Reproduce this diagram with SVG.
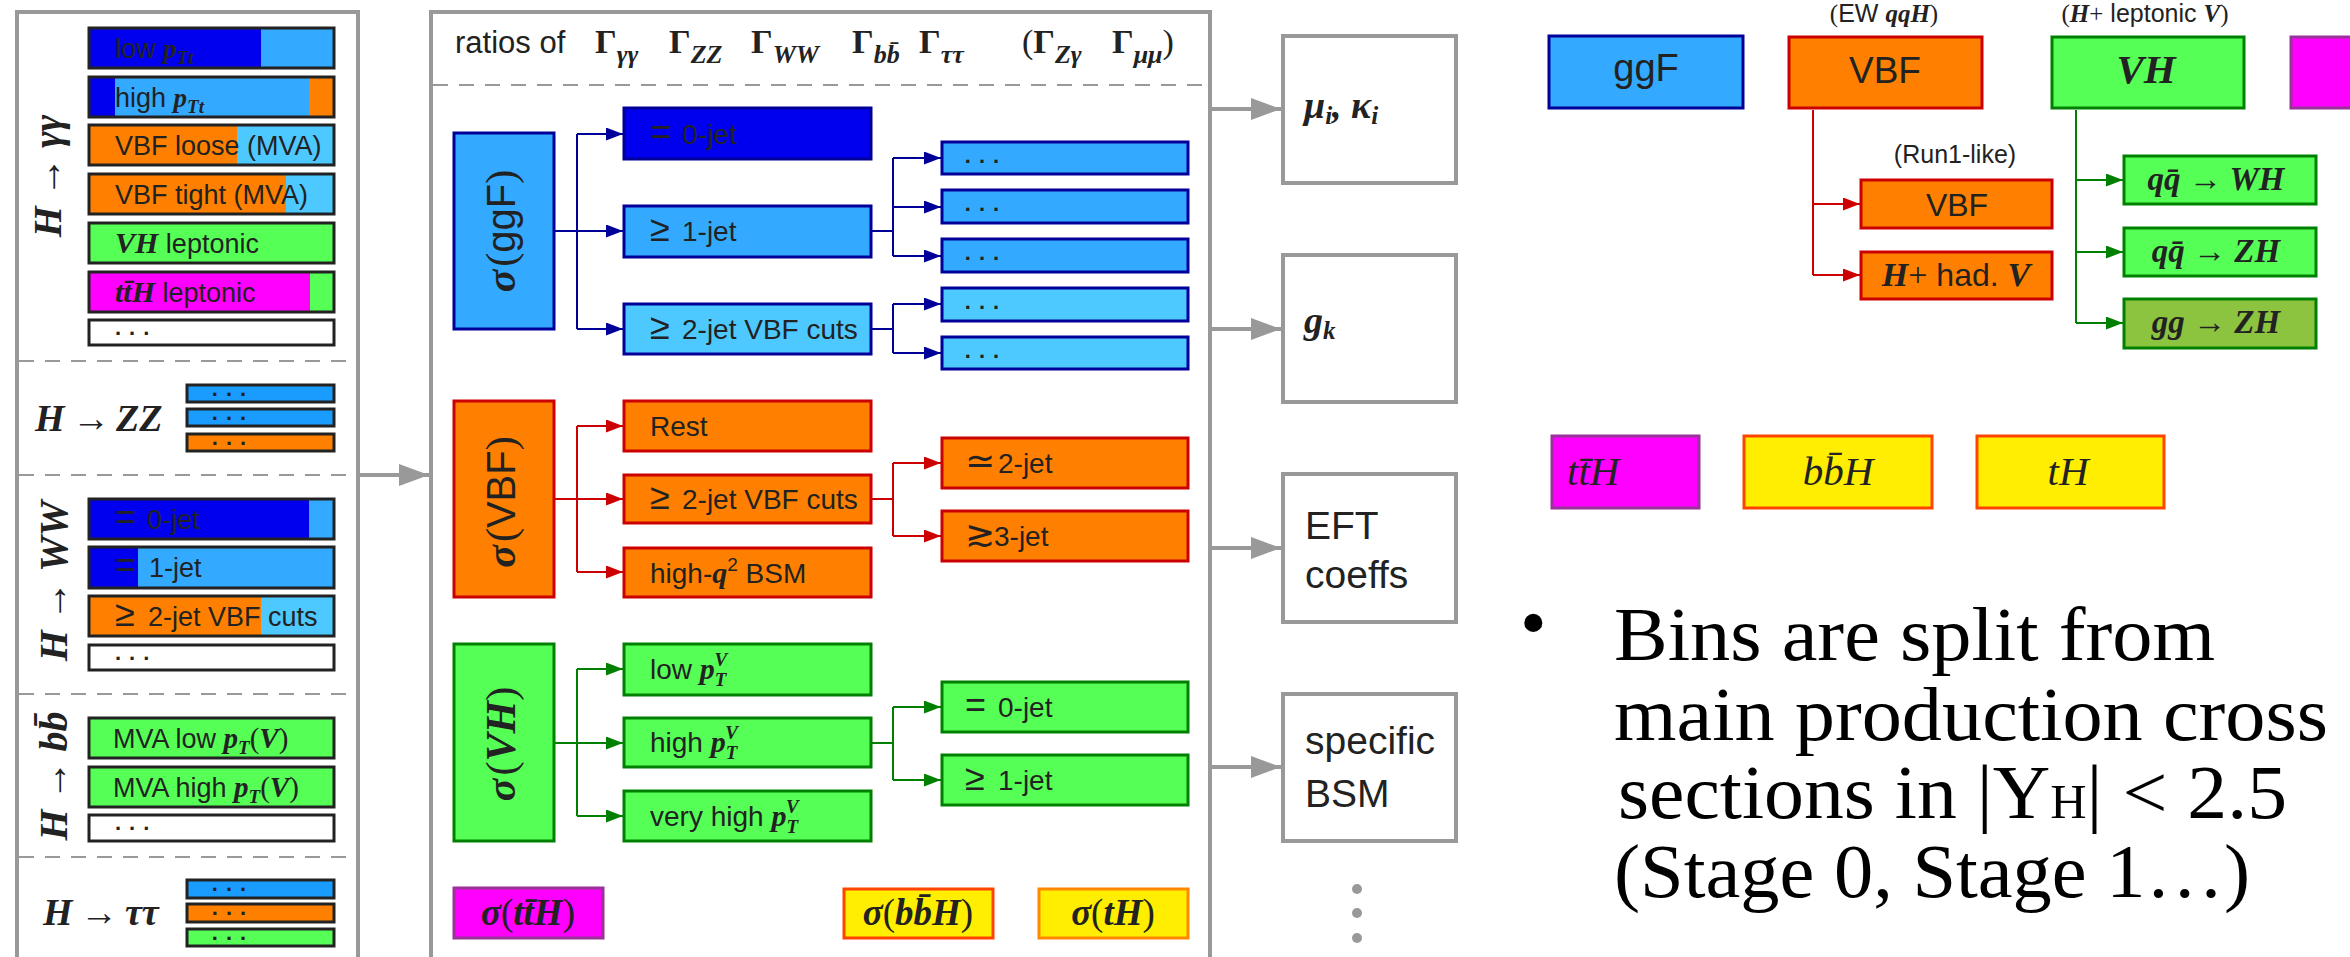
<svg xmlns="http://www.w3.org/2000/svg" width="2350" height="957" viewBox="0 0 2350 957">
<defs>
<style>
.s{font-family:"Liberation Sans","DejaVu Sans",sans-serif;fill:#222}
.m{font-family:"Liberation Serif","DejaVu Serif",serif;font-style:italic;font-weight:bold;fill:#222}
.mi{font-family:"Liberation Serif","DejaVu Serif",serif;font-style:italic;font-weight:normal;fill:#222}
.r{font-family:"Liberation Serif","DejaVu Serif",serif;font-style:normal;font-weight:normal}
.sym{font-family:"Liberation Sans","DejaVu Sans",sans-serif;font-size:36px}
.G{font-family:"Liberation Serif","DejaVu Serif",serif;font-weight:bold;fill:#222;font-size:34px}
.bar{fill:none;stroke:#222;stroke-width:3}
.pan{fill:#fff;stroke:#999;stroke-width:4}
.dash{stroke:#999;stroke-width:2;stroke-dasharray:15 11}
.nb{stroke:#000099;stroke-width:3}
.rb{stroke:#cc0000;stroke-width:3}
.gb{stroke:#008000;stroke-width:3}
.out{fill:#fff;stroke:#999;stroke-width:4}
.cB{fill:none;stroke:#000099;stroke-width:2}
.cR{fill:none;stroke:#cc0000;stroke-width:2}
.cG{fill:none;stroke:#008000;stroke-width:2}
.cY{fill:none;stroke:#999;stroke-width:4}
.dots{font-family:"Liberation Sans","DejaVu Sans",sans-serif;font-size:22px;font-weight:bold;letter-spacing:8px;fill:#222}
.t28{font-size:28px}
.t27{font-size:27px}
.bt{font-family:"Liberation Serif","Times New Roman",serif;font-size:76px;fill:#000}
</style>
<marker id="mB" viewBox="0 0 17 13" markerWidth="17" markerHeight="13" refX="17" refY="6.5" orient="auto" markerUnits="userSpaceOnUse"><path d="M0,0L17,6.5L0,13z" fill="#000099"/></marker>
<marker id="mR" viewBox="0 0 17 13" markerWidth="17" markerHeight="13" refX="17" refY="6.5" orient="auto" markerUnits="userSpaceOnUse"><path d="M0,0L17,6.5L0,13z" fill="#cc0000"/></marker>
<marker id="mG" viewBox="0 0 17 13" markerWidth="17" markerHeight="13" refX="17" refY="6.5" orient="auto" markerUnits="userSpaceOnUse"><path d="M0,0L17,6.5L0,13z" fill="#008000"/></marker>
<marker id="mY" viewBox="0 0 30 22" markerWidth="30" markerHeight="22" refX="30" refY="11" orient="auto" markerUnits="userSpaceOnUse"><path d="M0,0L30,11L0,22z" fill="#999"/></marker>
</defs>
<rect width="2350" height="957" fill="#fff"/>

<!-- LEFT PANEL -->
<g id="left-panel">
<rect class="pan" x="17" y="12" width="341" height="1000"/>
<line class="dash" x1="19" x2="356" y1="361" y2="361"/>
<line class="dash" x1="19" x2="356" y1="475" y2="475"/>
<line class="dash" x1="19" x2="356" y1="694" y2="694"/>
<line class="dash" x1="19" x2="356" y1="857" y2="857"/>
</g>

<g id="hgg">
<text class="m" font-size="40" transform="translate(61,176) rotate(-90)" text-anchor="middle">H<tspan class="r" dx="9">→</tspan><tspan dx="9">γγ</tspan></text>
<rect x="89" y="28" width="172" height="40" fill="#0000ee"/><rect x="261" y="28" width="73" height="40" fill="#33aaff"/><rect class="bar" x="89" y="28" width="245" height="40"/>
<text class="s t27" x="115" y="58">low <tspan class="m">p</tspan><tspan class="m" font-size="19" dy="6">Tt</tspan></text>
<rect x="89" y="77" width="26" height="40" fill="#0000ee"/><rect x="115" y="77" width="194" height="40" fill="#33aaff"/><rect x="309" y="77" width="25" height="40" fill="#ff8000"/><rect class="bar" x="89" y="77" width="245" height="40"/>
<text class="s t27" x="115" y="107">high <tspan class="m">p</tspan><tspan class="m" font-size="19" dy="6">Tt</tspan></text>
<rect x="89" y="125" width="148" height="40" fill="#ff8000"/><rect x="237" y="125" width="97" height="40" fill="#4dc9ff"/><rect class="bar" x="89" y="125" width="245" height="40"/>
<text class="s t27" x="115" y="155">VBF loose (MVA)</text>
<rect x="89" y="174" width="197" height="40" fill="#ff8000"/><rect x="286" y="174" width="48" height="40" fill="#4dc9ff"/><rect class="bar" x="89" y="174" width="245" height="40"/>
<text class="s t27" x="115" y="204">VBF tight (MVA)</text>
<rect x="89" y="223" width="245" height="40" fill="#55ff55"/><rect class="bar" x="89" y="223" width="245" height="40"/>
<text class="s t27" x="115" y="253"><tspan class="m" font-size="30">VH</tspan> leptonic</text>
<rect x="89" y="272" width="221" height="40" fill="#ff00ff"/><rect x="310" y="272" width="24" height="40" fill="#55ff55"/><rect class="bar" x="89" y="272" width="245" height="40"/>
<text class="s t27" x="115" y="302"><tspan class="m" font-size="30">tt̄H</tspan> leptonic</text>
<rect x="89" y="320" width="245" height="25" fill="#fff"/><rect class="bar" x="89" y="320" width="245" height="25"/>
<text class="dots" x="115" y="335">...</text>
</g>

<g id="hzz">
<text class="m" font-size="38" x="35" y="431">H<tspan class="r" x="72">→</tspan><tspan x="116">ZZ</tspan></text>
<rect x="187" y="385" width="147" height="17" fill="#1a9cff"/><rect class="bar" x="187" y="385" width="147" height="17"/>
<rect x="187" y="409" width="147" height="17" fill="#1a9cff"/><rect class="bar" x="187" y="409" width="147" height="17"/>
<rect x="187" y="434" width="147" height="17" fill="#ff8000"/><rect class="bar" x="187" y="434" width="147" height="17"/>
<text class="dots" x="233" y="396" text-anchor="middle">...</text>
<text class="dots" x="233" y="420" text-anchor="middle">...</text>
<text class="dots" x="233" y="445" text-anchor="middle">...</text>
</g>

<g id="hww">
<text class="m" font-size="40" transform="translate(67,581) rotate(-90)" text-anchor="middle">H<tspan class="r" dx="9">→</tspan><tspan dx="9">WW</tspan></text>
<rect x="89" y="499" width="220" height="40" fill="#0000ee"/><rect x="309" y="499" width="25" height="40" fill="#33aaff"/><rect class="bar" x="89" y="499" width="245" height="40"/>
<text class="s t27" x="115" y="529"><tspan class="sym">=</tspan><tspan x="147">0-jet</tspan></text>
<rect x="89" y="547" width="49" height="41" fill="#0000ee"/><rect x="138" y="547" width="196" height="41" fill="#33aaff"/><rect class="bar" x="89" y="547" width="245" height="41"/>
<text class="s t27" x="115" y="577"><tspan class="sym">=</tspan><tspan x="149">1-jet</tspan></text>
<rect x="89" y="596" width="172" height="40" fill="#ff8000"/><rect x="261" y="596" width="73" height="40" fill="#4dc9ff"/><rect class="bar" x="89" y="596" width="245" height="40"/>
<text class="s t27" x="115" y="626"><tspan class="sym">≥</tspan><tspan x="148">2-jet VBF cuts</tspan></text>
<rect x="89" y="645" width="245" height="25" fill="#fff"/><rect class="bar" x="89" y="645" width="245" height="25"/>
<text class="dots" x="115" y="660">...</text>
</g>

<g id="hbb">
<text class="m" font-size="40" transform="translate(67,776) rotate(-90)" text-anchor="middle">H<tspan class="r" dx="9">→</tspan><tspan dx="9">bb̄</tspan></text>
<rect x="89" y="718" width="245" height="40" fill="#55ff55"/><rect class="bar" x="89" y="718" width="245" height="40"/>
<text class="s t27" x="113" y="748">MVA low <tspan class="m" font-size="29">p</tspan><tspan class="m" font-size="19" dy="6">T</tspan><tspan class="r" font-size="29" dy="-6">(</tspan><tspan class="m" font-size="29">V</tspan><tspan class="r" font-size="29">)</tspan></text>
<rect x="89" y="767" width="245" height="40" fill="#55ff55"/><rect class="bar" x="89" y="767" width="245" height="40"/>
<text class="s t27" x="113" y="797">MVA high <tspan class="m" font-size="29">p</tspan><tspan class="m" font-size="19" dy="6">T</tspan><tspan class="r" font-size="29" dy="-6">(</tspan><tspan class="m" font-size="29">V</tspan><tspan class="r" font-size="29">)</tspan></text>
<rect x="89" y="815" width="245" height="26" fill="#fff"/><rect class="bar" x="89" y="815" width="245" height="26"/>
<text class="dots" x="115" y="830">...</text>
</g>

<g id="htautau">
<text class="m" font-size="38" x="43" y="925">H<tspan class="r" x="80">→</tspan><tspan x="125">ττ</tspan></text>
<rect x="187" y="880" width="147" height="18" fill="#1a9cff"/><rect class="bar" x="187" y="880" width="147" height="18"/>
<rect x="187" y="904" width="147" height="18" fill="#ff8000"/><rect class="bar" x="187" y="904" width="147" height="18"/>
<rect x="187" y="929" width="147" height="17" fill="#55ff55"/><rect class="bar" x="187" y="929" width="147" height="17"/>
<text class="dots" x="233" y="891" text-anchor="middle">...</text>
<text class="dots" x="233" y="915" text-anchor="middle">...</text>
<text class="dots" x="233" y="940" text-anchor="middle">...</text>
</g>

<!-- MIDDLE PANEL -->
<g id="middle-panel">
<rect class="pan" x="431" y="12" width="779" height="1000"/>
<line class="dash" x1="433" x2="1208" y1="85" y2="85"/>
<text class="s" font-size="31" x="455" y="53">ratios of</text>
<text class="G" x="595" y="53">Γ<tspan class="m" font-size="26" dy="10">γγ</tspan></text>
<text class="G" x="669" y="53">Γ<tspan class="m" font-size="26" dy="10">ZZ</tspan></text>
<text class="G" x="751" y="53">Γ<tspan class="m" font-size="26" dy="10">WW</tspan></text>
<text class="G" x="852" y="53">Γ<tspan class="m" font-size="26" dy="10">bb̄</tspan></text>
<text class="G" x="919" y="53">Γ<tspan class="m" font-size="26" dy="10">ττ</tspan></text>
<text class="G" x="1022" y="53"><tspan font-weight="normal">(</tspan>Γ<tspan class="m" font-size="26" dy="10">Zγ</tspan></text>
<text class="G" x="1112" y="53">Γ<tspan class="m" font-size="26" dy="10">μμ</tspan><tspan font-weight="normal" dy="-10">)</tspan></text>
</g>

<g id="ggF">
<rect class="nb" x="454" y="133" width="100" height="196" fill="#33aaff"/>
<text class="m" font-size="42" transform="translate(515,231) rotate(-90)" text-anchor="middle">σ<tspan class="r" dx="3">(</tspan><tspan class="s" font-style="normal" font-weight="normal" font-size="40">ggF</tspan><tspan class="r">)</tspan></text>
</g>
<g id="ggF-0jet"><rect class="nb" x="624" y="108" width="247" height="51" fill="#0000ee"/><text class="s t28" x="650" y="144"><tspan class="sym">=</tspan><tspan x="682">0-jet</tspan></text></g>
<g id="ggF-1jet"><rect class="nb" x="624" y="206" width="247" height="51" fill="#33aaff"/><text class="s t28" x="650" y="241"><tspan class="sym">≥</tspan><tspan x="682">1-jet</tspan></text></g>
<g id="ggF-2jet"><rect class="nb" x="624" y="304" width="247" height="50" fill="#4dc9ff"/><text class="s t28" x="650" y="339"><tspan class="sym">≥</tspan><tspan x="682">2-jet VBF cuts</tspan></text></g>
<g id="ggF-d1"><rect class="nb" x="942" y="142" width="246" height="32" fill="#33aaff"/><text class="dots" x="986" y="163" text-anchor="middle">...</text></g>
<g id="ggF-d2"><rect class="nb" x="942" y="190" width="246" height="33" fill="#33aaff"/><text class="dots" x="986" y="211" text-anchor="middle">...</text></g>
<g id="ggF-d3"><rect class="nb" x="942" y="239" width="246" height="33" fill="#33aaff"/><text class="dots" x="986" y="260" text-anchor="middle">...</text></g>
<g id="ggF-d4"><rect class="nb" x="942" y="288" width="246" height="33" fill="#4dc9ff"/><text class="dots" x="986" y="309" text-anchor="middle">...</text></g>
<g id="ggF-d5"><rect class="nb" x="942" y="337" width="246" height="32" fill="#4dc9ff"/><text class="dots" x="986" y="358" text-anchor="middle">...</text></g>

<g id="VBF">
<rect class="rb" x="454" y="401" width="100" height="196" fill="#ff8000"/>
<text class="m" font-size="42" transform="translate(515,502) rotate(-90)" text-anchor="middle">σ<tspan class="r" dx="3">(</tspan><tspan class="s" font-style="normal" font-weight="normal" font-size="40">VBF</tspan><tspan class="r">)</tspan></text>
</g>
<g id="VBF-rest"><rect class="rb" x="624" y="401" width="247" height="50" fill="#ff8000"/><text class="s t28" x="650" y="436">Rest</text></g>
<g id="VBF-2jet"><rect class="rb" x="624" y="475" width="247" height="48" fill="#ff8000"/><text class="s t28" x="650" y="509"><tspan class="sym">≥</tspan><tspan x="682">2-jet VBF cuts</tspan></text></g>
<g id="VBF-bsm"><rect class="rb" x="624" y="548" width="247" height="49" fill="#ff8000"/><text class="s t28" x="650" y="583">high-<tspan class="m" font-size="30">q</tspan><tspan font-size="19" dy="-12">2</tspan><tspan dy="12"> BSM</tspan></text></g>
<g id="VBF-eq2"><rect class="rb" x="942" y="438" width="246" height="50" fill="#ff8000"/><text class="s t28" x="965" y="473"><tspan class="sym">≃</tspan><tspan x="998">2-jet</tspan></text></g>
<g id="VBF-ge3"><rect class="rb" x="942" y="511" width="246" height="50" fill="#ff8000"/><text class="s t28" x="965" y="546"><tspan class="sym">≳</tspan><tspan x="994">3-jet</tspan></text></g>

<g id="VH">
<rect class="gb" x="454" y="644" width="100" height="197" fill="#55ff55"/>
<text class="m" font-size="42" transform="translate(515,744) rotate(-90)" text-anchor="middle">σ<tspan class="r" dx="3">(</tspan>VH<tspan class="r">)</tspan></text>
</g>
<g id="VH-low"><rect class="gb" x="624" y="644" width="247" height="51" fill="#55ff55"/><text class="s t28" x="650" y="679">low <tspan class="m" font-size="30">p</tspan><tspan class="m" font-size="19" dy="7">T</tspan><tspan class="m" font-size="19" dx="-12" dy="-20">V</tspan></text></g>
<g id="VH-high"><rect class="gb" x="624" y="718" width="247" height="49" fill="#55ff55"/><text class="s t28" x="650" y="752">high <tspan class="m" font-size="30">p</tspan><tspan class="m" font-size="19" dy="7">T</tspan><tspan class="m" font-size="19" dx="-12" dy="-20">V</tspan></text></g>
<g id="VH-vhigh"><rect class="gb" x="624" y="791" width="247" height="50" fill="#55ff55"/><text class="s t28" x="650" y="826">very high <tspan class="m" font-size="30">p</tspan><tspan class="m" font-size="19" dy="7">T</tspan><tspan class="m" font-size="19" dx="-12" dy="-20">V</tspan></text></g>
<g id="VH-0jet"><rect class="gb" x="942" y="682" width="246" height="50" fill="#55ff55"/><text class="s t28" x="965" y="717"><tspan class="sym">=</tspan><tspan x="998">0-jet</tspan></text></g>
<g id="VH-1jet"><rect class="gb" x="942" y="755" width="246" height="50" fill="#55ff55"/><text class="s t28" x="965" y="790"><tspan class="sym">≥</tspan><tspan x="998">1-jet</tspan></text></g>

<g id="sig-ttH"><rect x="454" y="888" width="149" height="50" fill="#ff00ff" stroke="#993399" stroke-width="3"/><text class="m" font-size="37" x="528" y="925" text-anchor="middle">σ<tspan class="r">(</tspan>tt̄H<tspan class="r">)</tspan></text></g>
<g id="sig-bbH"><rect x="844" y="889" width="149" height="49" fill="#ffee00" stroke="#ff4400" stroke-width="3"/><text class="m" font-size="37" x="918" y="925" text-anchor="middle">σ<tspan class="r">(</tspan>bb̄H<tspan class="r">)</tspan></text></g>
<g id="sig-tH"><rect x="1039" y="889" width="149" height="49" fill="#ffee00" stroke="#ff8800" stroke-width="3"/><text class="m" font-size="37" x="1113" y="925" text-anchor="middle">σ<tspan class="r">(</tspan>tH<tspan class="r">)</tspan></text></g>

<!-- OUTPUT BOXES -->
<g id="out-mu"><rect class="out" x="1283" y="36" width="173" height="147"/><text class="m" font-size="38" x="1304" y="118">μ<tspan font-size="25" dy="6">i</tspan><tspan dy="-6">, κ</tspan><tspan font-size="25" dy="6">i</tspan></text></g>
<g id="out-g"><rect class="out" x="1283" y="255" width="173" height="147"/><text class="m" font-size="38" x="1304" y="333">g<tspan font-size="25" dy="6">k</tspan></text></g>
<g id="out-eft"><rect class="out" x="1283" y="474" width="173" height="148"/><text class="s" font-size="39" x="1305" y="539">EFT</text><text class="s" font-size="39" x="1305" y="588">coeffs</text></g>
<g id="out-bsm"><rect class="out" x="1283" y="694" width="173" height="147"/><text class="s" font-size="39" x="1305" y="754">specific</text><text class="s" font-size="39" x="1305" y="807">BSM</text></g>
<g id="out-more"><circle cx="1357" cy="889" r="5" fill="#999"/><circle cx="1357" cy="913" r="5" fill="#999"/><circle cx="1357" cy="938" r="5" fill="#999"/></g>

<!-- RIGHT LEGEND -->
<g id="leg-ggF"><rect class="nb" x="1549" y="36" width="194" height="72" fill="#33aaff"/><text class="s" font-size="38" x="1646" y="81" text-anchor="middle">ggF</text></g>
<g id="leg-VBF"><text class="s" font-size="25" x="1884" y="22" text-anchor="middle"><tspan class="r">(</tspan>EW <tspan class="m">qqH</tspan><tspan class="r">)</tspan></text><rect class="rb" x="1789" y="37" width="193" height="71" fill="#ff8000"/><text class="s" font-size="37" x="1885" y="83" text-anchor="middle">VBF</text></g>
<g id="leg-VH"><text class="s" font-size="25" x="2145" y="22" text-anchor="middle"><tspan class="r">(</tspan><tspan class="m">H</tspan><tspan class="r">+</tspan> leptonic <tspan class="m">V</tspan><tspan class="r">)</tspan></text><rect class="gb" x="2052" y="37" width="192" height="71" fill="#55ff55"/><text class="m" font-size="41" x="2146" y="83" text-anchor="middle">VH</text></g>
<g id="leg-magenta"><rect x="2291" y="37" width="80" height="71" fill="#ff00ff" stroke="#993399" stroke-width="3"/></g>
<g id="leg-VBF-run1"><text class="s" font-size="25" x="1955" y="163" text-anchor="middle">(Run1-like)</text><rect class="rb" x="1861" y="180" width="191" height="48" fill="#ff8000"/><text class="s" font-size="32" x="1957" y="216" text-anchor="middle">VBF</text></g>
<g id="leg-VBF-hadV"><rect class="rb" x="1861" y="252" width="191" height="47" fill="#ff8000"/><text class="s" font-size="32" x="1956" y="286" text-anchor="middle"><tspan class="m" font-size="34">H</tspan><tspan class="r" font-size="34">+</tspan> had. <tspan class="m" font-size="34">V</tspan></text></g>
<g id="leg-WH"><rect class="gb" x="2124" y="156" width="192" height="48" fill="#55ff55"/><text class="m" font-size="33" x="2216" y="190" text-anchor="middle">qq̄ <tspan class="r">→</tspan> WH</text></g>
<g id="leg-ZH"><rect class="gb" x="2124" y="228" width="192" height="48" fill="#55ff55"/><text class="m" font-size="33" x="2216" y="262" text-anchor="middle">qq̄ <tspan class="r">→</tspan> ZH</text></g>
<g id="leg-ggZH"><rect class="gb" x="2124" y="299" width="192" height="49" fill="#8cc43f"/><text class="m" font-size="33" x="2216" y="333" text-anchor="middle">gg <tspan class="r">→</tspan> ZH</text></g>
<g id="leg-ttH"><rect x="1552" y="436" width="147" height="72" fill="#ff00ff" stroke="#993399" stroke-width="3"/><text class="mi" font-size="41" x="1567" y="485">tt̄H</text></g>
<g id="leg-bbH"><rect x="1744" y="436" width="188" height="72" fill="#ffee00" stroke="#ff4400" stroke-width="3"/><text class="mi" font-size="41" x="1838" y="485" text-anchor="middle">bb̄H</text></g>
<g id="leg-tH"><rect x="1977" y="436" width="187" height="72" fill="#ffee00" stroke="#ff4400" stroke-width="3"/><text class="mi" font-size="41" x="2068" y="485" text-anchor="middle">tH</text></g>

<g id="bullet">
<text class="bt" font-size="64" x="1520" y="648">•</text>
<text class="bt" x="1614" y="660" textLength="601" lengthAdjust="spacingAndGlyphs">Bins are split from</text>
<text class="bt" x="1614" y="740" textLength="714" lengthAdjust="spacingAndGlyphs">main production cross</text>
<text class="bt" x="1618" y="818" textLength="669" lengthAdjust="spacingAndGlyphs">sections in |Y<tspan font-size="48">H</tspan>| &lt; 2.5</text>
<text class="bt" x="1614" y="897" textLength="636" lengthAdjust="spacingAndGlyphs">(Stage 0, Stage 1…)</text>
</g>

<!-- CONNECTORS -->
<g id="connectors">
<path class="cY" d="M360,475H429" marker-end="url(#mY)"/>
<path class="cY" d="M1212,109H1281" marker-end="url(#mY)"/>
<path class="cY" d="M1212,329H1281" marker-end="url(#mY)"/>
<path class="cY" d="M1212,548H1281" marker-end="url(#mY)"/>
<path class="cY" d="M1212,767H1281" marker-end="url(#mY)"/>

<path class="cB" d="M555,231H577M577,134V329"/>
<path class="cB" d="M577,134H623" marker-end="url(#mB)"/>
<path class="cB" d="M577,231H623" marker-end="url(#mB)"/>
<path class="cB" d="M577,329H623" marker-end="url(#mB)"/>
<path class="cB" d="M872,231H893M893,158V256"/>
<path class="cB" d="M893,158H941" marker-end="url(#mB)"/>
<path class="cB" d="M893,207H941" marker-end="url(#mB)"/>
<path class="cB" d="M893,256H941" marker-end="url(#mB)"/>
<path class="cB" d="M872,329H893M893,304V353"/>
<path class="cB" d="M893,304H941" marker-end="url(#mB)"/>
<path class="cB" d="M893,353H941" marker-end="url(#mB)"/>

<path class="cR" d="M555,499H577M577,426V572"/>
<path class="cR" d="M577,426H623" marker-end="url(#mR)"/>
<path class="cR" d="M577,499H623" marker-end="url(#mR)"/>
<path class="cR" d="M577,572H623" marker-end="url(#mR)"/>
<path class="cR" d="M872,499H893M893,463V536"/>
<path class="cR" d="M893,463H941" marker-end="url(#mR)"/>
<path class="cR" d="M893,536H941" marker-end="url(#mR)"/>

<path class="cG" d="M555,743H577M577,669V816"/>
<path class="cG" d="M577,669H623" marker-end="url(#mG)"/>
<path class="cG" d="M577,743H623" marker-end="url(#mG)"/>
<path class="cG" d="M577,816H623" marker-end="url(#mG)"/>
<path class="cG" d="M872,743H893M893,707V780"/>
<path class="cG" d="M893,707H941" marker-end="url(#mG)"/>
<path class="cG" d="M893,780H941" marker-end="url(#mG)"/>

<path class="cR" d="M1813,110V275"/>
<path class="cR" d="M1813,204H1860" marker-end="url(#mR)"/>
<path class="cR" d="M1813,275H1860" marker-end="url(#mR)"/>
<path class="cG" d="M2076,110V323"/>
<path class="cG" d="M2076,180H2123" marker-end="url(#mG)"/>
<path class="cG" d="M2076,252H2123" marker-end="url(#mG)"/>
<path class="cG" d="M2076,323H2123" marker-end="url(#mG)"/>
</g>
</svg>
